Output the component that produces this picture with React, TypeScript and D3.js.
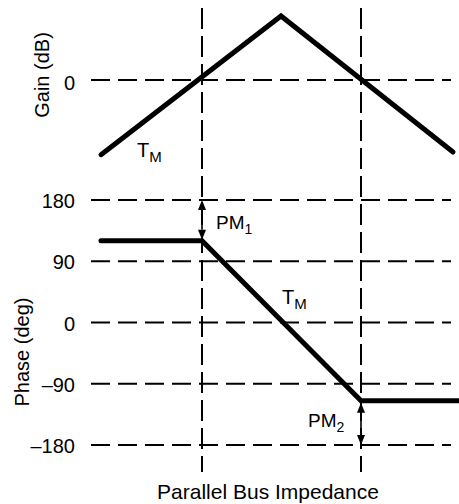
import React from "react";
import * as d3 from "d3";

const width = 459;
const height = 504;
const font = "'Liberation Sans', Arial, Helvetica, sans-serif";

// x is an unlabeled impedance axis (arbitrary units)
const crossovers = [10.1, 26];
const gridExtent = [-1, 35];

const gainTicks = [0];
const gainX = [0, 18, 35.2];
const gainValues = [-14, 12, -13.5];

const phaseTicks = [180, 90, 0, -90, -180];
const phaseTickLabels = ["180", "90", "0", "\u201390", "\u2013180"];
const phaseX = [0, 10.1, 26, 35.9];
const phaseValues = [120, 120, -115, -115];

const xScale = d3.scaleLinear().domain([0, 36]).range([101, 461]);
const gainScale = d3.scaleLinear().domain([-15, 15]).range([160, 0]);
const phaseScale = d3.scaleLinear().domain([-180, 180]).range([445, 200]);

const gainLine = d3
  .line<number>()
  .x((d, i) => xScale(gainX[i]))
  .y(d => gainScale(d));

const phaseLine = d3
  .line<number>()
  .x((d, i) => xScale(phaseX[i]))
  .y(d => phaseScale(d));

const gridDash = "19 8";
const vDash = "21 7";

function Arrow({ x, y1, y2 }: { x: number; y1: number; y2: number }) {
  const h = 10;
  const w = 4;
  return (
    <g>
      <line x1={x} x2={x} y1={y1 + h} y2={y2 - h} stroke="#000" strokeWidth={1.6} />
      <path d={`M${x},${y1} L${x - w},${y1 + h} L${x + w},${y1 + h} Z`} fill="#000" />
      <path d={`M${x},${y2} L${x - w},${y2 - h} L${x + w},${y2 - h} Z`} fill="#000" />
    </g>
  );
}

export default function App() {
  return (
    <svg
      width={width}
      height={height}
      style={{ position: "absolute", left: 0, top: 0, background: "#fff" }}
      fontFamily={font}
    >
      {/* horizontal grid */}
      {gainTicks.map(t => (
        <line
          key={"g" + t}
          x1={xScale(gridExtent[0])}
          x2={xScale(gridExtent[1])}
          y1={gainScale(t)}
          y2={gainScale(t)}
          stroke="#000"
          strokeWidth={2}
          strokeDasharray={gridDash}
        />
      ))}
      {phaseTicks.map(t => (
        <line
          key={"p" + t}
          x1={xScale(gridExtent[0])}
          x2={xScale(gridExtent[1])}
          y1={phaseScale(t)}
          y2={phaseScale(t)}
          stroke="#000"
          strokeWidth={2}
          strokeDasharray={gridDash}
        />
      ))}
      {/* vertical crossover lines */}
      {crossovers.map(c => (
        <line
          key={"v" + c}
          x1={xScale(c)}
          x2={xScale(c)}
          y1={8}
          y2={472}
          stroke="#000"
          strokeWidth={2}
          strokeDasharray={vDash}
        />
      ))}

      {/* tick labels */}
      {gainTicks.map(t => (
        <text key={"gl" + t} x={75} y={gainScale(t) + 10} fontSize={20} textAnchor="end">
          {t}
        </text>
      ))}
      {phaseTicks.map((t, i) => (
        <text key={"pl" + t} x={75} y={phaseScale(t) + 8} fontSize={20} textAnchor="end">
          {phaseTickLabels[i]}
        </text>
      ))}

      {/* axis titles */}
      <text transform="translate(49,75) rotate(-90)" fontSize={20} textAnchor="middle">
        Gain (dB)
      </text>
      <text transform="translate(29,352) rotate(-90)" fontSize={20} textAnchor="middle">
        Phase (deg)
      </text>
      <text x={268} y={499} fontSize={21} textAnchor="middle">
        Parallel Bus Impedance
      </text>

      {/* curves */}
      <path d={gainLine(gainValues) || ""} fill="none" stroke="#000" strokeWidth={5} strokeLinecap="round" strokeLinejoin="miter" />
      <path d={phaseLine(phaseValues) || ""} fill="none" stroke="#000" strokeWidth={5} strokeLinecap="round" />

      {/* phase margin arrows */}
      <Arrow x={xScale(crossovers[0])} y1={phaseScale(180)} y2={phaseScale(phaseValues[1]) - 1} />
      <Arrow x={xScale(crossovers[1])} y1={phaseScale(phaseValues[2]) + 2} y2={phaseScale(-180)} />

      {/* annotations */}
      <text x={137} y={157} fontSize={20}>
        T<tspan fontSize={15} dy={5}>M</tspan>
      </text>
      <text x={282} y={304} fontSize={20}>
        T<tspan fontSize={15} dy={5}>M</tspan>
      </text>
      <text x={216} y={229} fontSize={19}>
        PM<tspan fontSize={14} dy={5}>1</tspan>
      </text>
      <text x={308} y={427} fontSize={19}>
        PM<tspan fontSize={14} dy={5}>2</tspan>
      </text>
    </svg>
  );
}
